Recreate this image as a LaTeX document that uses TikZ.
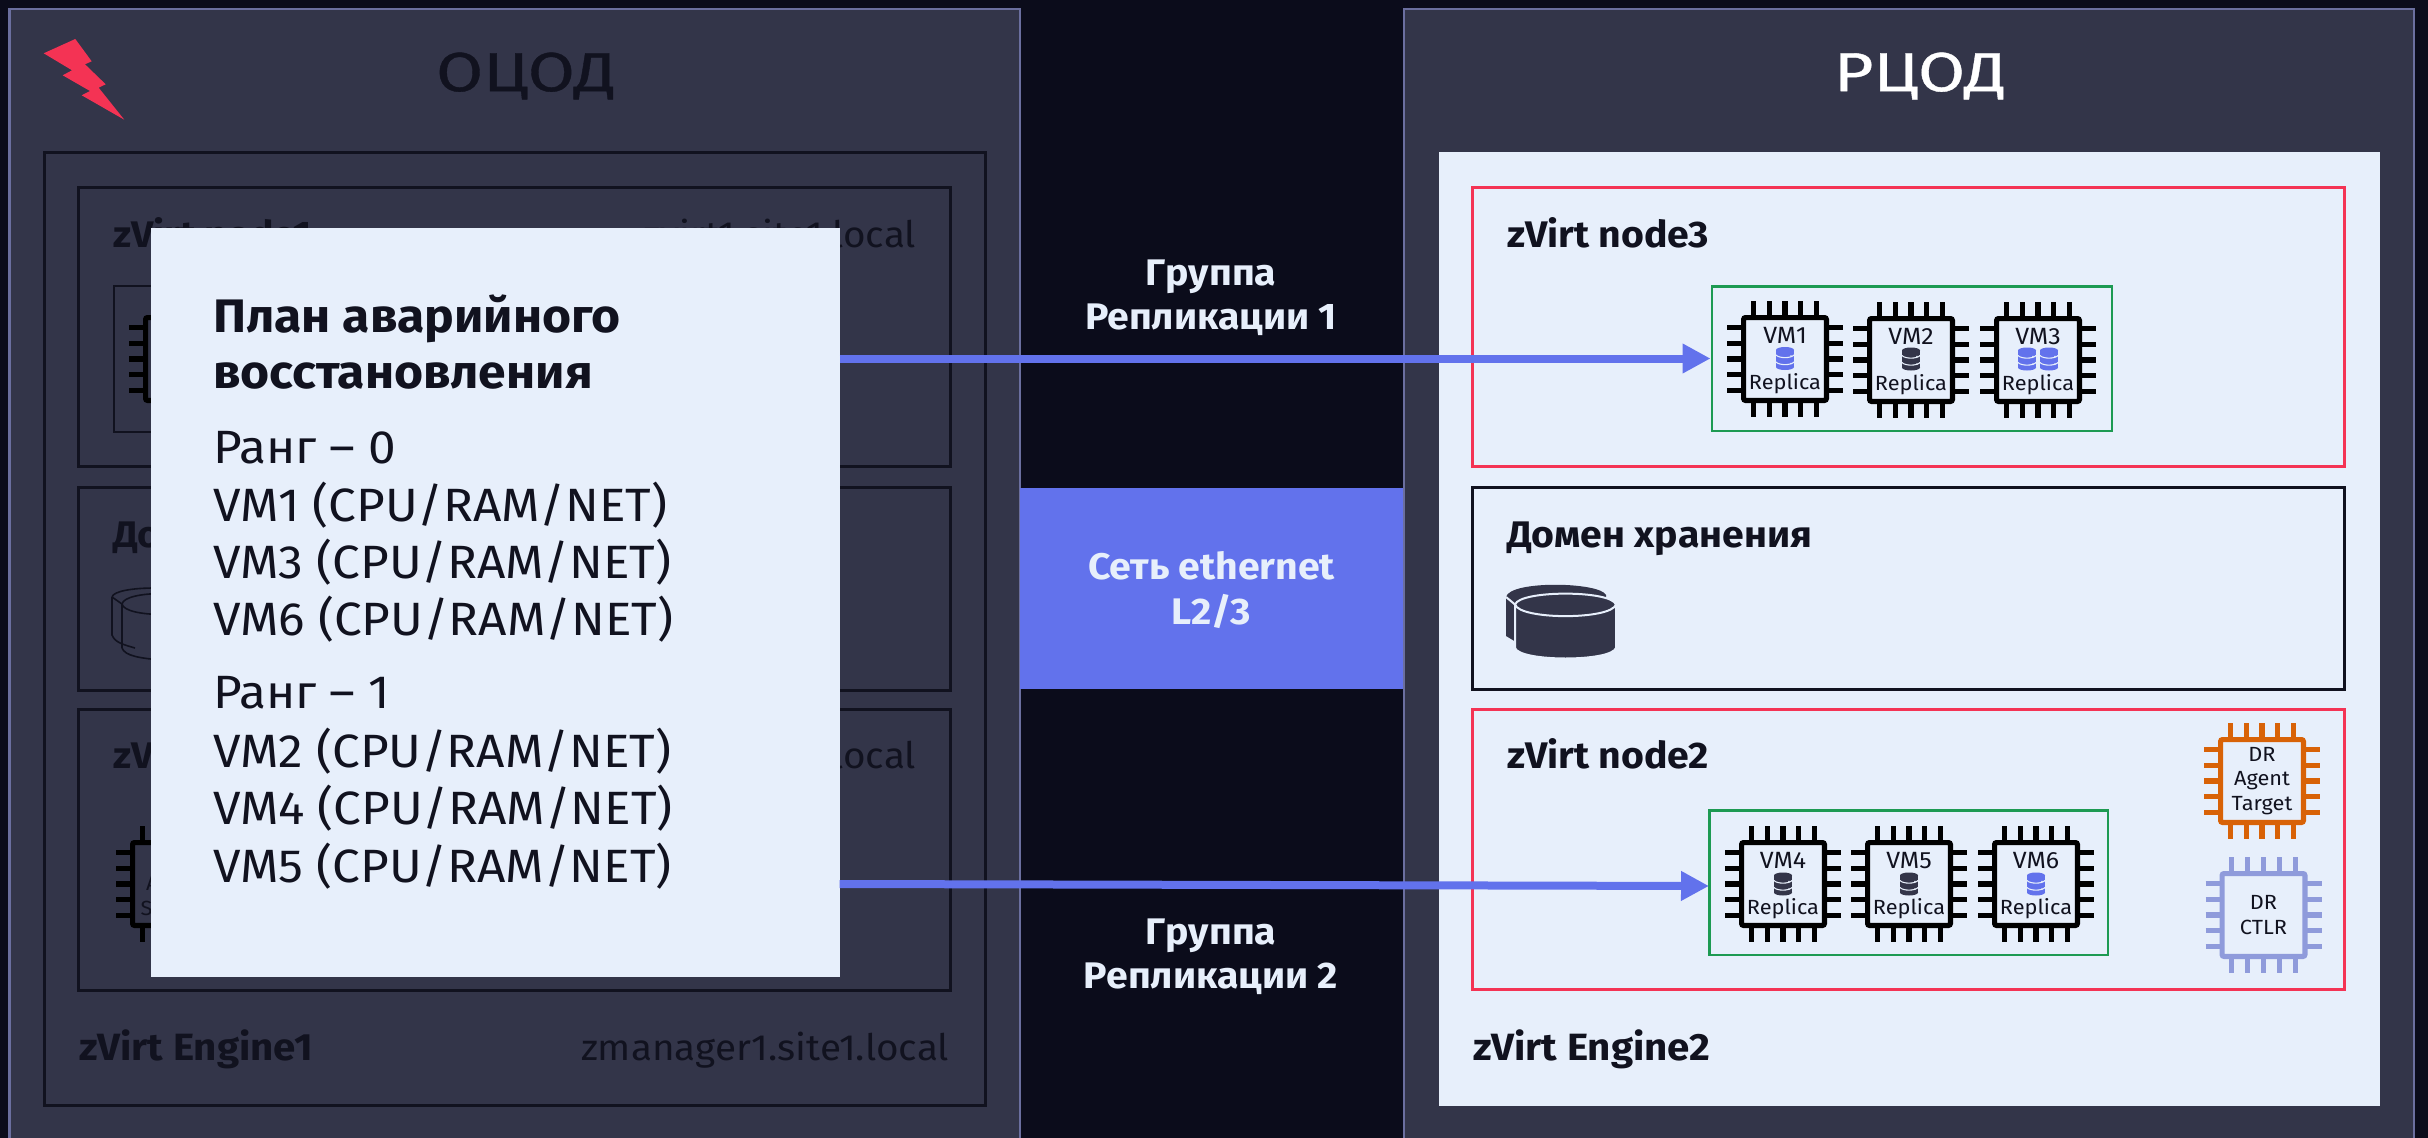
\documentclass[tikz,border=0pt]{standalone}
\usepackage{fontspec}
\setmainfont[FakeStretch=1.06]{Fira Sans}
\newfontfamily\titlefont[FakeStretch=1.24,FakeBold=0.7]{Fira Sans}
\usetikzlibrary{arrows.meta}
\definecolor{bgd}{HTML}{0B0C1B}
\definecolor{panel}{HTML}{333549}
\definecolor{edge}{HTML}{6B6F9F}
\definecolor{pale}{HTML}{E7EFFB}
\definecolor{ink}{HTML}{11121F}
\definecolor{azure}{HTML}{6272EC}
\definecolor{redl}{HTML}{F43354}
\definecolor{greenl}{HTML}{1D9A52}
\definecolor{orangel}{HTML}{D86207}
\definecolor{lavender}{HTML}{8F9BDB}
\newcommand{\pxf}[1]{\fontsize{\dimexpr #1pt*3/4\relax}{\dimexpr #1pt*9/10\relax}\selectfont}
\tikzset{
  panelbox/.style={draw=edge,line width=2pt,fill=panel},
  plainbox/.style={line width=3pt*0.75},
  lbl/.style={anchor=base west,inner sep=0,outer sep=0},
  lblr/.style={anchor=base east,inner sep=0,outer sep=0},
  arr/.style={draw=azure,line width=6pt,-{Triangle[length=21pt,width=21pt,fill=azure]}},
  chiptext/.style={align=center,inner sep=0,text=ink,font=\pxf{20.5}},
  midtext/.style={align=center,inner sep=0,text=pale,font=\bfseries\pxf{37}},
}
% chip: name, x, y, colour
\newcommand{\chipbody}[4]{%
  \node[draw=#4,line width=3.8pt,rounded corners=1.5pt,minimum size=62.2pt,inner sep=0,fill=none] (#1) at (#2,#3) {};
  \begin{scope}[shift={(#2,#3)}]
    \foreach \p in {-31.7,-15.85,0,15.85,31.7} {
      \draw[#4,line width=3.8pt] (\p,-58)--(\p,-41);
      \draw[#4,line width=3.8pt] (\p,41)--(\p,58);
      \draw[#4,line width=3.8pt] (-58,\p)--(-41,\p);
      \draw[#4,line width=3.8pt] (41,\p)--(58,\p);
    }
  \end{scope}}
% database icon: x, y, colour
\newcommand{\dbicon}[3]{%
  \begin{scope}[shift={(#1,#2)}]
    \fill[#3] (0,-8.5) ellipse [x radius=9,y radius=3];
    \fill[#3] (-9,-8.5) rectangle (9,8.5);
    \fill[#3] (0,8.5) ellipse [x radius=9,y radius=3];
    \draw[pale,line width=0.8pt] (-9,-3.5) .. controls (-6,0) and (6,0) .. (9,-3.5);
    \draw[pale,line width=0.8pt] (-9,3.5) .. controls (-6,7) and (6,7) .. (9,3.5);
    \fill[pale] (6,-2.5) circle (0.9) (6,5) circle (0.9);
  \end{scope}}
% VM chip: name, x, y, label, icon code
\newcommand{\vmchip}[5]{%
  \chipbody{#1}{#2}{#3}{black}
  \node[lbl,anchor=base,font=\pxf{23.5},text=ink] (#1n) at (#2,#3-16) {#4};
  \node[lbl,anchor=base,font=\pxf{20.5},text=ink] (#1r) at (#2,#3+30) {Replica};
  \begin{scope}[shift={(#2,#3)}]#5\end{scope}}
\begin{document}
\begin{tikzpicture}[x=0.75pt,y=-0.75pt]
\useasboundingbox (0,0) rectangle (2428,1138);
\fill[bgd] (0,0) rectangle (2428,1138);
% panels
\draw[panelbox] (9.5,9) rectangle (1020,1150);
\draw[panelbox] (1404,9) rectangle (2414,1150);
\node[anchor=center,inner sep=0,font={\titlefont\pxf{55}},text=ink] (titleL) at (526,76) {ОЦОД};
\node[anchor=center,inner sep=0,font={\titlefont\pxf{55}},text=white] (titleR) at (1920,76) {РЦОД};
% strike
\fill[redl] (75.3,39)--(91.7,61.3)--(85,64.3)--(105.7,84.3)--(98.7,87.7)--(124.3,119.7)--(81.7,95.3)--(90,91)--(62.7,75.3)--(72,70.3)--(43.7,53.3)--cycle;
% left side
\draw[ink,plainbox] (44,152) rectangle (985.5,1105);
\draw[ink,plainbox] (78,187) rectangle (950,466);
\draw[ink,plainbox] (78,487) rectangle (950,690);
\draw[ink,plainbox] (78,709) rectangle (950,990);
\draw[ink,line width=1.5pt] (114,286) rectangle (400,432);
\node[lbl,font=\bfseries\pxf{37},text=ink] (n1) at (113,247) {zVirt node1};
\node[lblr,font=\pxf{36.5},text=ink] (h1) at (916,247) {zvirt1.site1.local};
\node[lbl,font=\bfseries\pxf{37},text=ink] (st1) at (113,547) {Домен хранения};
\node[lbl,font=\bfseries\pxf{37},text=ink] (n2) at (113,768) {zVirt node2};
\node[lblr,font=\pxf{36.5},text=ink] (h2) at (916,768) {zvirt2.site1.local};
\node[lbl,font=\bfseries\pxf{38},text=ink] (e1) at (79,1060) {zVirt Engine1};
\node[lblr,font=\pxf{36.5},text=ink] (m1) at (949,1060) {zmanager1.site1.local};
\chipbody{cL1}{187}{359}{black}
\chipbody{cL2}{174}{884}{black}
\node[chiptext] (cL2t) at (174,884) {DR\\Agent\\Source};
\draw[ink,line width=1.2pt] (112,597) .. controls (115,585) and (190,585) .. (212,597) (112,597) -- (112,635) .. controls (115,643) and (125,645) .. (135,648);
\draw[ink,line width=1.2pt] (122,604) .. controls (125,590) and (195,590) .. (222,604) (122,604) .. controls (125,618) and (195,618) .. (222,604) (122,604)--(122,648);
\draw[ink,line width=1.2pt] (112,597) -- (122,604) (122,648) .. controls (125,656) and (140,658) .. (160,660);
% right side
\fill[pale] (1439,152) rectangle (2380,1105.5);
\draw[redl,plainbox] (1472,187) rectangle (2344.5,466);
\draw[ink,plainbox] (1472,487) rectangle (2344.5,689.5);
\draw[redl,plainbox] (1472,709) rectangle (2344.5,989.5);
\node[lbl,font=\bfseries\pxf{37},text=ink] (n3) at (1507,247) {zVirt node3};
\node[lbl,font=\bfseries\pxf{37},text=ink] (st2) at (1507,547) {Домен хранения};
\node[lbl,font=\bfseries\pxf{37},text=ink] (n4) at (1507,768) {zVirt node2};
\node[lbl,font=\bfseries\pxf{38},text=ink] (e2) at (1473,1060) {zVirt Engine2};
% storage icon
\fill[panel] (1506,597) .. controls (1510,580) and (1600,582) .. (1606,595) -- (1606,630) -- (1516,642) -- (1506,636) -- cycle;
\fill[panel,draw=pale,line width=1.5pt] (1515,604.5) .. controls (1520,590) and (1611,590) .. (1616,604.5) -- (1616,648) .. controls (1611,662) and (1520,662) .. (1515,648) -- cycle;
\draw[pale,line width=1.5pt] (1515,604.5) .. controls (1520,620) and (1611,620) .. (1616,604.5);
\draw[pale,line width=1.5pt] (1506,597) -- (1515,604.5);
% groups
\node[draw=greenl,line width=2.2pt,fill=none,minimum width=300pt,minimum height=108.7pt,inner sep=0] (g1) at (1912,358.5) {};
\node[draw=greenl,line width=2.2pt,fill=none,minimum width=299.2pt,minimum height=108.7pt,inner sep=0] (g2) at (1908.5,882.5) {};
\coordinate (g2in) at (1709,886);
\vmchip{vm1}{1785}{359}{VM1}{\dbicon{0}{-0.5}{azure}}
\vmchip{vm2}{1911}{360}{VM2}{\dbicon{0}{-1}{panel}}
\vmchip{vm3}{2038}{360}{VM3}{\dbicon{-11}{-1}{azure}\dbicon{11}{-1}{azure}}
\vmchip{vm4}{1783}{884}{VM4}{\dbicon{0}{0}{panel}}
\vmchip{vm5}{1909}{884}{VM5}{\dbicon{0}{0}{panel}}
\vmchip{vm6}{2036}{884}{VM6}{\dbicon{0}{0}{azure}}
\chipbody{agent}{2262}{781}{orangel}
\node[chiptext] (agentt) at (2262,781) {DR\\Agent\\Target};
\chipbody{ctlr}{2263.5}{915}{lavender}
\node[chiptext] (ctlrt) at (2263.5,915) {DR\\CTLR};
% centre
\node[fill=azure,minimum width=287.25pt,minimum height=150.75pt,inner sep=0] (net) at (1211.5,588.5) {};
\node[midtext] (nett) at (1211.5,590) {Сеть ethernet\\L2/3};
\node[midtext] (gr1) at (1211,298) {Группа\\Репликации 1};
\node[midtext] (gr2) at (1211,957) {Группа\\Репликации 2};
% popup
\node[fill=pale,minimum width=516.4pt,minimum height=561.75pt,inner sep=0] (plan) at (495.25,602.5) {};
\coordinate (a1) at (plan.east |- g1.west);
\coordinate (a2) at (839.5,884);
\draw[arr] (a1) -- (g1.west);
\draw[arr] (a2) -- (g2in);
\node[lbl,font=\bfseries\pxf{47},text=ink] (p1) at (213,332) {План аварийного};
\node[lbl,font=\bfseries\pxf{47},text=ink] (p2) at (213,388) {восстановления};
\node[lbl,font=\pxf{46.7},text=ink] (r0) at (213,463) {Ранг – 0};
\node[lbl,font=\pxf{46.7},text=ink] (l1) at (213,521) {VM1 (CPU/RAM/NET)};
\node[lbl,font=\pxf{46.7},text=ink] (l3) at (213,578) {VM3 (CPU/RAM/NET)};
\node[lbl,font=\pxf{46.7},text=ink] (l6) at (213,635) {VM6 (CPU/RAM/NET)};
\node[lbl,font=\pxf{46.7},text=ink] (r1) at (213,708) {Ранг – 1};
\node[lbl,font=\pxf{46.7},text=ink] (l2) at (213,767) {VM2 (CPU/RAM/NET)};
\node[lbl,font=\pxf{46.7},text=ink] (l4) at (213,824) {VM4 (CPU/RAM/NET)};
\node[lbl,font=\pxf{46.7},text=ink] (l5) at (213,882) {VM5 (CPU/RAM/NET)};
\end{tikzpicture}
\end{document}
